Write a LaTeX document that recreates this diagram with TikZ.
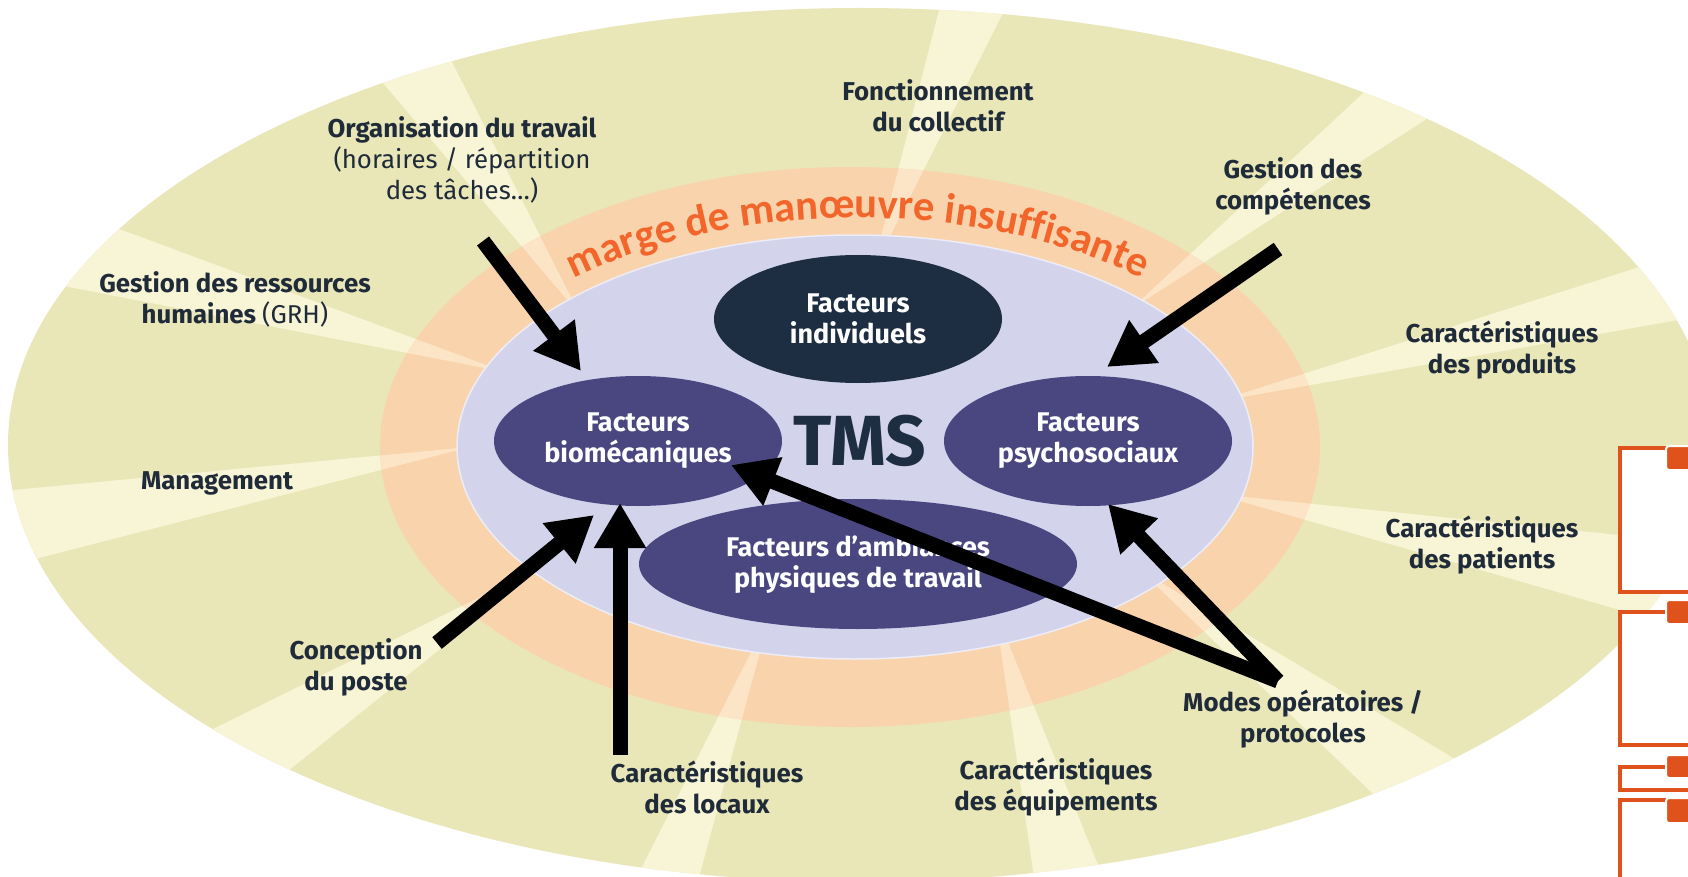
\documentclass[tikz,border=0pt]{standalone}
\usepackage{fontspec}
\setmainfont{Fira Sans}
\newfontfamily\arcfont{Carlito}
\usetikzlibrary{shapes.geometric,arrows.meta,calc,decorations.text}
\definecolor{olive}{HTML}{E9E6B8}
\definecolor{raycol}{HTML}{F8F4D6}
\definecolor{peach}{HTML}{F9D3AC}
\definecolor{raypeach}{HTML}{FCE4C6}
\definecolor{lav}{HTML}{D3D3EB}
\definecolor{purp}{HTML}{4A4780}
\definecolor{navy}{HTML}{1D2E42}
\definecolor{labcol}{HTML}{1F2B38}
\definecolor{arcorange}{HTML}{F2652B}
\definecolor{boxorange}{HTML}{E0521B}
\begin{document}
\begin{tikzpicture}[x=1pt,y=-1pt,
  lab/.style={text=labcol, align=center, inner sep=0pt, font=\fontsize{25.8}{31}\selectfont\bfseries},
  factor/.style={ellipse, fill=purp, text=white, align=center, inner sep=0pt, font=\fontsize{27}{31}\selectfont\bfseries},
  bigarrow/.style={line width=15pt, draw=black, -{Triangle[length=45pt,width=49pt]}},
  frameline/.style={draw=boxorange, line width=4pt},
  tagbox/.style={fill=boxorange, draw=white, line width=2pt, rounded corners=3pt}
]
\useasboundingbox (0,0) rectangle (1688,877);
\clip (0,0) rectangle (1688,877);
\fill[white] (0,0) rectangle (1688,877);

% outer ring
\fill[olive] (860,445) ellipse [x radius=852, y radius=437];
\def\raylist{872/272/939/10/1002/15, 1130/310/1359/97/1422/122, 1215/402/1630/270/1667/322,
 1215/494/1688/542/1620/610, 1140/570/1369/790/1445/753, 995/610/1034/877/1096/860,
 770/615/644/863/701/870, 545/565/217/727/293/767, 470/447/13/490/43/557,
 505/372/69/287/122/230, 580/315/383/83/452/62}
\begin{scope}
\clip (860,445) ellipse [x radius=852, y radius=437];
\foreach \ax/\ay/\bx/\by/\cx/\cy in \raylist
  \fill[raycol] (\ax,\ay) -- ($(\ax,\ay)!1.5!(\bx,\by)$) -- ($(\ax,\ay)!1.5!(\cx,\cy)$) -- cycle;
\end{scope}

% orange ring
\fill[peach] (850,447) ellipse [x radius=470, y radius=280];
\begin{scope}
\clip (850,447) ellipse [x radius=470, y radius=280];
\foreach \ax/\ay/\bx/\by/\cx/\cy in \raylist
  \fill[raypeach] (\ax,\ay) -- ($(\ax,\ay)!1.5!(\bx,\by)$) -- ($(\ax,\ay)!1.5!(\cx,\cy)$) -- cycle;
\end{scope}

% lavender core
\filldraw[fill=lav, draw=white!60!lav, line width=1.5pt] (855,447) ellipse [x radius=398, y radius=212];

% arc text
\path[decorate, decoration={text along path, text align=center, text color=arcorange,
  text={|\arcfont\bfseries\fontsize{42.5}{42.5}\selectfont|marge de manœuvre insuffisante}}]
  (465.2,368.7) arc[start angle=200, end angle=340, x radius=418, y radius=229];

% factor ellipses
\node[factor, fill=navy, minimum width=288, minimum height=128] (indiv) at (858,319) {Facteurs\\individuels};
\node[factor, minimum width=288, minimum height=130] (biomec) at (638,441) {Facteurs\\biomécaniques};
\node[factor, minimum width=288, minimum height=130] (psycho) at (1088,441) {Facteurs\\psychosociaux};
\node[factor, minimum width=438, minimum height=130] (ambi) at (858,564) {Facteurs d’ambiances\\physiques de travail};
\node[text=navy, inner sep=0pt, font=\fontsize{71}{71}\selectfont\bfseries] (tms) at (860,441) {TMS};

% outer labels
\node[lab] (org) at (462,160) {Organisation du travail\\{\mdseries (horaires / répartition}\\{\mdseries des tâches…)}};
\node[lab] (fonct) at (938,106) {Fonctionnement\\du collectif};
\node[lab] (compet) at (1293,186) {Gestion des\\compétences};
\node[lab] (grh) at (235,299) {Gestion des ressources\\humaines {\mdseries (GRH)}};
\node[lab] (mgmt) at (217,483) {Management};
\node[lab] (concep) at (356,667) {Conception\\du poste};
\node[lab] (locaux) at (707,787) {Caractéristiques\\des locaux};
\node[lab] (equip) at (1056,787) {Caractéristiques\\des équipements};
\node[lab] (modes) at (1303,719) {Modes opératoires /\\protocoles};
\node[lab] (patients) at (1482,545) {Caractéristiques\\des patients};
\node[lab] (produits) at (1502,350) {Caractéristiques\\des produits};

% arrows
\coordinate (orgT) at (483,241);
\coordinate (orgH) at (581,371);
\coordinate (compT) at (1278,249);
\coordinate (compH) at (1107,367);
\coordinate (concT) at (437,643);
\coordinate (concH) at (594,515);
\coordinate (locT) at (620,755);
\coordinate (locH) at (620,503);
\coordinate (modesT) at (1278,681);
\coordinate (modesH1) at (731,465);
\coordinate (modesH2) at (1108,504);
\draw[bigarrow] (orgT) -- (orgH);
\draw[bigarrow] (compT) -- (compH);
\draw[bigarrow] (concT) -- (concH);
\draw[bigarrow] (locT) -- (locH);
\draw[bigarrow] (modesT) -- (modesH1);
\draw[bigarrow] (modesT) -- (modesH2);

% cropped orange frames at the right edge
\draw[frameline, fill=white] (1620,448) rectangle (1700,592);
\draw[frameline, fill=white] (1620,612) rectangle (1700,745);
\draw[frameline, fill=white] (1620,767) rectangle (1700,790);
\draw[frameline] (1700,800) -- (1620,800) -- (1620,890);
\filldraw[tagbox] (1666,446) rectangle (1702,470);
\filldraw[tagbox] (1666,600) rectangle (1702,624);
\filldraw[tagbox] (1666,755) rectangle (1702,778);
\filldraw[tagbox] (1666,798) rectangle (1702,823);
\end{tikzpicture}
\end{document}
